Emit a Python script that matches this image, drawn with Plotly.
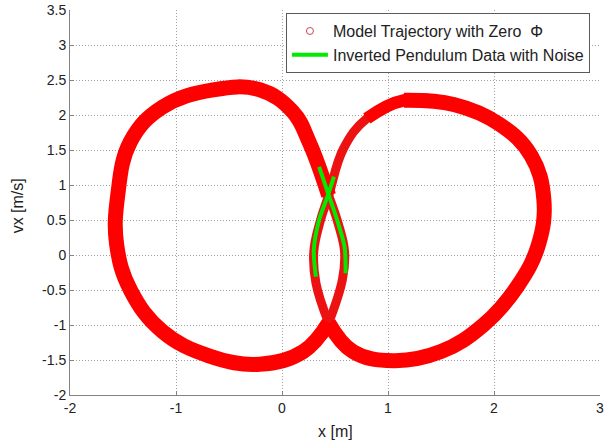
import plotly.graph_objects as go

# Model trajectory, left loop: outer arc from lower crossing round to upper crossing
left_outer_x = [0.44, 0.20, -0.21, -0.69, -1.13, -1.43, -1.56, -1.55, -1.43, -1.13, -0.65, -0.21, 0.10, 0.26, 0.44]
left_outer_vx = [-0.97, -1.38, -1.56, -1.44, -1.09, -0.50, 0.15, 0.85, 1.62, 2.11, 2.36, 2.36, 2.05, 1.60, 0.85]
# Left loop middle strand (upper crossing down to lower crossing)
left_mid_x = [0.44, 0.53, 0.59, 0.57, 0.44]
left_mid_vx = [0.85, 0.45, 0.05, -0.35, -0.97]

# Right loop outer arc (lower crossing round to top)
right_outer_x = [0.44, 0.67, 1.05, 1.50, 1.90, 2.22, 2.42, 2.47, 2.35, 2.05, 1.62, 1.15]
right_outer_vx = [-0.97, -1.38, -1.51, -1.38, -1.00, -0.45, 0.15, 0.80, 1.42, 1.87, 2.15, 2.21]
# Right loop tapering part near the top-left
right_taper_x = [1.62, 1.15, 0.80]
right_taper_vx = [2.15, 2.21, 1.95]
# Right loop thin part (top-left arc and middle strand)
right_mid_x = [1.15, 0.80, 0.58, 0.44, 0.36, 0.30, 0.32, 0.44]
right_mid_vx = [2.21, 1.95, 1.52, 0.85, 0.48, 0.05, -0.40, -0.97]

# Inverted pendulum data with noise (two strands)
green1_x = [0.35, 0.44, 0.52, 0.59, 0.60]
green1_vx = [1.26, 0.86, 0.50, 0.12, -0.26]
green2_x = [0.49, 0.43, 0.35, 0.30, 0.32]
green2_vx = [1.12, 0.84, 0.50, 0.07, -0.31]

x_ticks = [-2, -1, 0, 1, 2, 3]
y_ticks = [-2, -1.5, -1, -0.5, 0, 0.5, 1, 1.5, 2, 2.5, 3, 3.5]

RED = "rgb(255,0,0)"
RED_THIN = "rgb(236,18,18)"
GREEN = "rgb(0,235,0)"
FONT = "Liberation Sans, Arial, sans-serif"
TXT = "#222"

fig = go.Figure()
for xs, ys, w, c in [(left_mid_x, left_mid_vx, 9, RED_THIN),
                     (right_mid_x, right_mid_vx, 9, RED_THIN),
                     (right_taper_x, right_taper_vx, 12.5, RED),
                     (left_outer_x, left_outer_vx, 15, RED),
                     (right_outer_x, right_outer_vx, 15, RED)]:
    fig.add_trace(go.Scatter(x=xs, y=ys, mode="lines",
                             line=dict(color=c, width=w, shape="spline", smoothing=1.15),
                             showlegend=False, hoverinfo="skip"))

# legend entry for the model trajectory
fig.add_trace(go.Scatter(x=[None], y=[None], mode="markers", name="Model Trajectory with Zero  Φ",
                         marker=dict(symbol="circle-open", color="rgb(200,70,80)", size=7, line=dict(width=1))))

fig.add_trace(go.Scatter(x=green1_x, y=green1_vx, mode="lines",
                         line=dict(color=GREEN, width=4, shape="spline", smoothing=0.8),
                         name="Inverted Pendulum Data with Noise"))
fig.add_trace(go.Scatter(x=green2_x, y=green2_vx, mode="lines",
                         line=dict(color=GREEN, width=4, shape="spline", smoothing=0.8),
                         showlegend=False))

axis_common = dict(showgrid=True, gridcolor="rgb(160,160,160)", griddash="1px,2px", gridwidth=1,
                   showline=True, linecolor="rgb(130,130,130)", linewidth=1, zeroline=False,
                   ticks="inside", ticklen=4, tickcolor="rgb(130,130,130)",
                   tickfont=dict(family=FONT, size=14, color=TXT), mirror=False, automargin=False)

fig.update_xaxes(range=[-2, 3], tickvals=x_ticks, ticktext=[str(t) for t in x_ticks], **axis_common)
fig.update_yaxes(range=[-2, 3.5], tickvals=y_ticks, ticktext=[f"{t:g}" for t in y_ticks], **axis_common)

fig.update_layout(
    width=613, height=440,
    margin=dict(l=70, r=13, t=10, b=45),
    plot_bgcolor="white", paper_bgcolor="white",
    font=dict(family=FONT, size=14, color=TXT),
    legend=dict(x=0.981, y=0.992, xanchor="right", yanchor="top",
                bgcolor="white", bordercolor="rgb(90,90,90)", borderwidth=1,
                font=dict(family=FONT, size=16, color=TXT),
                tracegroupgap=0, itemwidth=36),
    annotations=[
        dict(text="x [m]", xref="paper", yref="paper", x=0.5, y=-0.094, xanchor="center", yanchor="middle",
             showarrow=False, font=dict(family=FONT, size=16, color=TXT)),
        dict(text="vx [m/s]", xref="paper", yref="paper", x=-0.1, y=0.49, xanchor="center", yanchor="middle",
             textangle=-90, showarrow=False, font=dict(family=FONT, size=16, color=TXT)),
    ],
)

fig.write_html("out.html")
